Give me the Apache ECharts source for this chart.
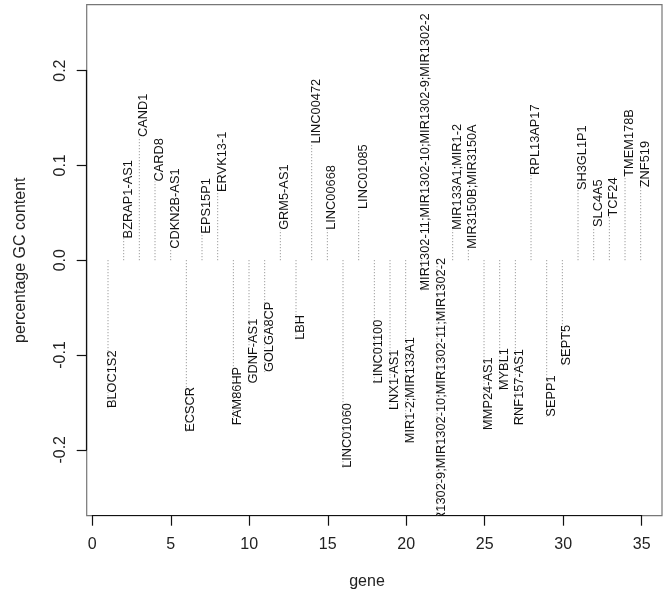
<!DOCTYPE html>
<html>
<head>
<meta charset="utf-8">
<script src="https://cdn.jsdelivr.net/npm/echarts@6/dist/echarts.min.js"></script>
<style>html,body{margin:0;padding:0;background:#fff;}#c{width:666px;height:601px;}</style>
</head>
<body>
<div id="c"></div>
<script>
const genes = ["BLOC1S2","BZRAP1-AS1","CAND1","CARD8","CDKN2B-AS1","ECSCR","EPS15P1","ERVK13-1","FAM86HP","GDNF-AS1","GOLGA8CP","GRM5-AS1","LBH","LINC00472","LINC00668","LINC01060","LINC01085","LINC01100","LNX1-AS1","MIR1-2;MIR133A1","MIR1302-11;MIR1302-10;MIR1302-9;MIR1302-2","MIR1302-9;MIR1302-10;MIR1302-11;MIR1302-2","MIR133A1;MIR1-2","MIR3150B;MIR3150A","MMP24-AS1","MYBL1","RNF157-AS1","RPL13AP17","SEPP1","SEPT5","SH3GL1P1","SLC4A5","TCF24","TMEM178B","ZNF519"];
const gcContent = [-0.156,0.023,0.130,0.083,0.012,-0.181,0.028,0.072,-0.174,-0.130,-0.118,0.032,-0.084,0.123,0.032,-0.219,0.054,-0.130,-0.158,-0.193,-0.032,-0.290,0.032,0.012,-0.179,-0.137,-0.174,0.090,-0.165,-0.111,0.074,0.035,0.046,0.088,0.077];
const xTicks = [0,5,10,15,20,25,30,35];
const yTicks = [-0.2,-0.1,0.0,0.1,0.2];

const FONT = '"Liberation Sans", Arial, Helvetica, sans-serif';
const chart = echarts.init(document.getElementById('c'), null, {renderer:'canvas'});
const data = genes.map((g,i)=>[i+1, gcContent[i]]);

chart.setOption({
  animation:false,
  backgroundColor:'#fff',
  grid:[
    {left:86.7, right:4, top:4.7, bottom:85.3, show:true, borderColor:'#777', borderWidth:1.2},
    {left:92.3, right:24.3, top:4.7, bottom:85.3},
    {left:86.7, right:4, top:70.6, bottom:151.2}
  ],
  xAxis:[
    {gridIndex:0, type:'value', min:-0.36, max:36.36, show:false},
    {gridIndex:1, type:'value', min:xTicks[0], max:xTicks[xTicks.length-1], interval:5,
     axisLine:{show:true, lineStyle:{color:'#111', width:1.2}},
     axisTick:{show:true, length:10, lineStyle:{color:'#111', width:1.2}},
     axisLabel:{show:true, margin:21, fontSize:16, color:'#222', fontFamily:FONT,
       formatter:v=>String(v), showMinLabel:true, showMaxLabel:true},
     splitLine:{show:false},
     name:'gene', nameLocation:'middle', nameGap:58,
     nameTextStyle:{fontSize:16, color:'#222', fontFamily:FONT}},
    {gridIndex:2, type:'value', min:0, max:1, show:false}
  ],
  yAxis:[
    {gridIndex:0, type:'value', min:-0.2695, max:0.2695, show:false},
    {gridIndex:1, type:'value', min:0, max:1, show:false},
    {gridIndex:2, type:'value', min:yTicks[0], max:yTicks[yTicks.length-1], interval:0.1,
     axisLine:{show:true, lineStyle:{color:'#111', width:1.2}},
     axisTick:{show:true, length:10, lineStyle:{color:'#111', width:1.2}},
     axisLabel:{show:true, margin:18, rotate:90, fontSize:16, color:'#222', fontFamily:FONT,
       formatter:v=>v.toFixed(1), showMinLabel:true, showMaxLabel:true},
     splitLine:{show:false},
     name:'percentage GC content', nameLocation:'middle', nameGap:58, nameRotate:90,
     nameTextStyle:{fontSize:16, color:'#222', fontFamily:FONT}}
  ],
  series:[{
    type:'custom',
    xAxisIndex:0, yAxisIndex:0,
    clip:true,
    data:data,
    renderItem:function(params, api){
      const x = api.value(0), v = api.value(1);
      const p0 = api.coord([x, 0]);
      const p1 = api.coord([x, v]);
      return {type:'group', children:[
        {type:'line', shape:{x1:p0[0], y1:p0[1], x2:p1[0], y2:p1[1]},
         style:{stroke:'#888', lineWidth:1, lineDash:[1,2]}},
        {type:'text', x:p1[0]+4.5, y:p1[1], rotation:Math.PI/2,
         style:{text:genes[params.dataIndex], fill:'#111', font:'12.8px ' + FONT,
                align:'left', verticalAlign:'middle'}}
      ]};
    }
  }]
});
</script>
</body>
</html>
